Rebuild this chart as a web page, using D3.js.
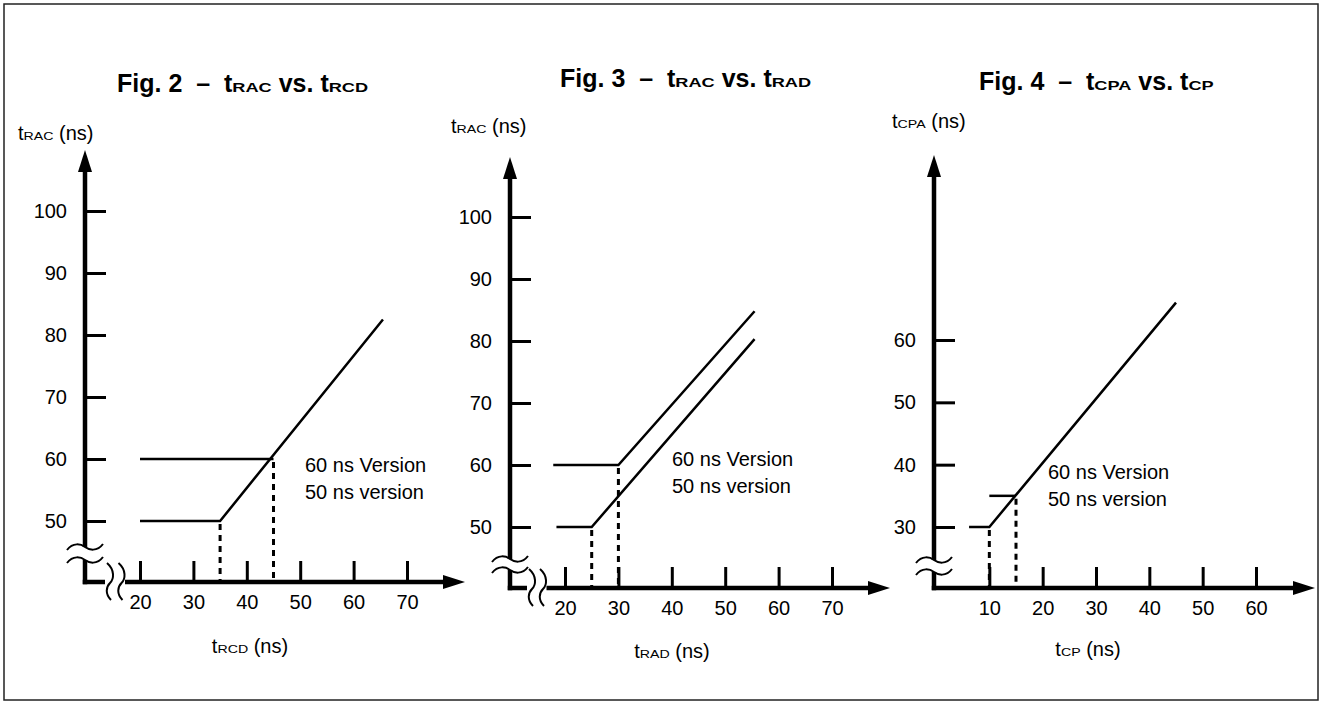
<!DOCTYPE html>
<html>
<head>
<meta charset="utf-8">
<script src="https://cdn.jsdelivr.net/npm/d3@7"></script>
<style>
  html, body { margin: 0; padding: 0; background: #fff; }
  svg { display: block; font-family: "Liberation Sans", Arial, Helvetica, sans-serif; }
  text { white-space: pre; fill: #000; }
</style>
</head>
<body>
<div id="chart"></div>
<script>
// ---- data ----
// Fig. 2  tRAC vs. tRCD
const fig2XTicks = [20, 30, 40, 50, 60, 70];
const fig2YTicks = [50, 60, 70, 80, 90, 100];
const fig2Line60 = [[20, 60], [45, 60]];
const fig2Line50 = [[20, 50], [35, 50], [65.5, 82.5]];
const fig2Drops = [[35, 50], [45, 60]];

// Fig. 3  tRAC vs. tRAD
const fig3XTicks = [20, 30, 40, 50, 60, 70];
const fig3YTicks = [50, 60, 70, 80, 90, 100];
const fig3Line60 = [[17.8, 60], [30, 60], [55.5, 84.8]];
const fig3Line50 = [[18.4, 50], [25, 50], [55.5, 80.3]];
const fig3Drops = [[25, 50], [30, 60]];

// Fig. 4  tCPA vs. tCP
const fig4XTicks = [10, 20, 30, 40, 50, 60];
const fig4YTicks = [30, 40, 50, 60];
const fig4Line35 = [[10, 35], [15, 35]];
const fig4Line30 = [[6.2, 30], [10, 30], [45, 66]];
const fig4Drops = [[10, 30], [15, 35]];

const legendLabels = ["60 ns Version", "50 ns version"];

const width = 1321, height = 704;

const svg = d3.select("#chart").append("svg")
  .attr("width", width)
  .attr("height", height);

svg.append("rect")
  .attr("x", 4).attr("y", 4)
  .attr("width", 1314).attr("height", 696)
  .attr("fill", "none")
  .attr("stroke", "#222")
  .attr("stroke-width", 1.5);

// text made of pieces, "RAC" etc are small, wide caps
function richText(g, x, y, parts, anchor) {
  const t = g.append("g");
  let cx = 0;
  parts.forEach(p => {
    const sx = p.sx || 1;
    const el = t.append("text")
      .attr("font-size", p.size)
      .attr("font-weight", p.bold ? "bold" : "normal")
      .text(p.text);
    const w = el.node().getComputedTextLength() * sx;
    el.attr("transform", `translate(${cx},0) scale(${sx},1)`);
    cx += w;
  });
  const x0 = anchor === "middle" ? x - cx / 2 : x;
  t.attr("transform", `translate(${x0},${y})`);
}

const titleParts = (fig, a, b) => [
  { text: `Fig. ${fig}  \u2013  `, size: 25, bold: true },
  { text: "t", size: 25, bold: true },
  { text: a, size: 13, bold: true, sx: 1.4 },
  { text: " vs. ", size: 25, bold: true },
  { text: "t", size: 25, bold: true },
  { text: b, size: 13, bold: true, sx: 1.4 }
];
const labelParts = sub => [
  { text: "t", size: 20 },
  { text: sub, size: 10.5, sx: 1.35 },
  { text: " (ns)", size: 20 }
];

const panels = [
  {
    title: titleParts(2, "RAC", "RCD"), titlePos: [117, 92],
    yLabel: labelParts("RAC"), yLabelPos: [18, 140],
    xLabel: labelParts("RCD"), xLabelPos: [250, 653],
    xDomain: [20, 70], xRange: [140, 407],
    yDomain: [50, 100], yRange: [521, 211],
    xTicks: fig2XTicks, yTicks: fig2YTicks,
    lines: [fig2Line60, fig2Line50], drops: fig2Drops,
    origin: [85, 582], yTop: 150, xRight: 465,
    yBreak: [547, 560], xBreak: [110, 121.5],
    legend: [305, 472, 499]
  },
  {
    title: titleParts(3, "RAC", "RAD"), titlePos: [560, 87],
    yLabel: labelParts("RAC"), yLabelPos: [451, 133],
    xLabel: labelParts("RAD"), xLabelPos: [672, 658],
    xDomain: [20, 70], xRange: [565, 832],
    yDomain: [50, 100], yRange: [527, 217],
    xTicks: fig3XTicks, yTicks: fig3YTicks,
    lines: [fig3Line60, fig3Line50], drops: fig3Drops,
    origin: [510, 588], yTop: 157, xRight: 890,
    yBreak: [559, 570], xBreak: [532, 543],
    legend: [672, 466, 493]
  },
  {
    title: titleParts(4, "CPA", "CP"), titlePos: [979, 90],
    yLabel: labelParts("CPA"), yLabelPos: [892, 128],
    xLabel: labelParts("CP"), xLabelPos: [1088, 656],
    xDomain: [0, 60], xRange: [936, 1256],
    yDomain: [30, 60], yRange: [527, 340],
    xTicks: fig4XTicks, yTicks: fig4YTicks,
    lines: [fig4Line35, fig4Line30], drops: fig4Drops,
    origin: [934, 588], yTop: 155, xRight: 1315,
    yBreak: [560, 572], xBreak: null,
    legend: [1048, 479, 506]
  }
];

function drawPanel(p) {
  const g = svg.append("g");
  const x = d3.scaleLinear().domain(p.xDomain).range(p.xRange);
  const y = d3.scaleLinear().domain(p.yDomain).range(p.yRange);
  const [ax, ay] = p.origin;
  const aw = 4.5;

  richText(g, p.titlePos[0], p.titlePos[1], p.title, "start");
  richText(g, p.yLabelPos[0], p.yLabelPos[1], p.yLabel, "start");
  richText(g, p.xLabelPos[0], p.xLabelPos[1], p.xLabel, "middle");

  // ticks + tick labels
  const yAxis = g.append("g")
    .attr("transform", `translate(${ax},0)`)
    .call(d3.axisLeft(y).tickValues(p.yTicks).tickSizeInner(-21).tickSizeOuter(0).tickPadding(18));
  const xAxis = g.append("g")
    .attr("transform", `translate(0,${ay})`)
    .call(d3.axisBottom(x).tickValues(p.xTicks).tickSizeInner(-21).tickSizeOuter(0).tickPadding(13));
  [yAxis, xAxis].forEach(a => {
    a.attr("font-family", null).attr("font-size", 20);
    a.select(".domain").remove();
    a.selectAll(".tick line").attr("stroke", "#000").attr("stroke-width", 3);
    a.selectAll(".tick text").attr("fill", "#000");
  });

  // thick axis lines with breaks
  const axisSegs = [
    [ax, p.yTop + 18, ax, p.yBreak[0]],
    [ax, p.yBreak[1], ax, ay + aw / 2]
  ];
  if (p.xBreak) {
    axisSegs.push([ax - aw / 2, ay, p.xBreak[0] - 5, ay]);
    axisSegs.push([p.xBreak[1] + 3.5, ay, p.xRight - 18, ay]);
  } else {
    axisSegs.push([ax - aw / 2, ay, p.xRight - 18, ay]);
  }
  g.selectAll(".axis-seg").data(axisSegs).enter().append("line")
    .attr("class", "axis-seg")
    .attr("x1", d => d[0]).attr("y1", d => d[1])
    .attr("x2", d => d[2]).attr("y2", d => d[3])
    .attr("stroke", "#000").attr("stroke-width", aw);

  g.append("path")
    .attr("d", `M${ax},${p.yTop}L${ax + 7},${p.yTop + 22}L${ax - 7},${p.yTop + 22}Z`)
    .attr("fill", "#000");
  g.append("path")
    .attr("d", `M${p.xRight},${ay}L${p.xRight - 22},${ay - 7}L${p.xRight - 22},${ay + 7}Z`)
    .attr("fill", "#000");

  // break marks
  g.selectAll(".ybreak").data(p.yBreak).enter().append("path")
    .attr("class", "ybreak")
    .attr("d", d => `M${ax - 18},${d + 3}C${ax - 12},${d - 5} ${ax - 4},${d - 3} ${ax},${d}S${ax + 12},${d + 5} ${ax + 18},${d - 3}`)
    .attr("fill", "none").attr("stroke", "#000").attr("stroke-width", 2);
  if (p.xBreak) {
    g.selectAll(".xbreak").data(p.xBreak).enter().append("path")
      .attr("class", "xbreak")
      .attr("d", d => `M${d - 3},${ay - 19}C${d + 5},${ay - 12} ${d + 4},${ay - 3} ${d},${ay + 1}S${d - 5},${ay + 12} ${d + 1},${ay + 18}`)
      .attr("fill", "none").attr("stroke", "#000").attr("stroke-width", 2);
  }

  // curves
  const line = d3.line().x(d => x(d[0])).y(d => y(d[1]));
  g.selectAll(".series").data(p.lines).enter().append("path")
    .attr("class", "series")
    .attr("d", line)
    .attr("fill", "none").attr("stroke", "#000").attr("stroke-width", 2.5);

  g.selectAll(".drop").data(p.drops).enter().append("line")
    .attr("class", "drop")
    .attr("x1", d => x(d[0])).attr("y1", d => y(d[1]) + 3)
    .attr("x2", d => x(d[0])).attr("y2", ay - 2)
    .attr("stroke", "#000").attr("stroke-width", 3)
    .attr("stroke-dasharray", "6,5");

  g.selectAll(".legend").data(legendLabels).enter().append("text")
    .attr("class", "legend")
    .attr("x", p.legend[0])
    .attr("y", (d, i) => p.legend[1 + i])
    .attr("font-size", 20)
    .text(d => d);
}

panels.forEach(drawPanel);
</script>
</body>
</html>
